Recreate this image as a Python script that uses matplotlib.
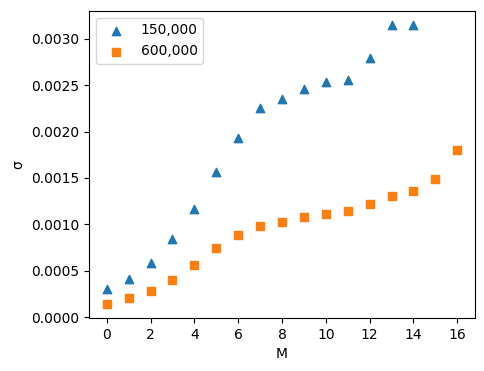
import matplotlib
matplotlib.use("Agg")
import matplotlib.pyplot as plt

m_150 = list(range(15))
sigma_150 = [0.00030, 0.000414, 0.000586, 0.00084, 0.00117, 0.001565, 0.001926,
             0.00225, 0.002345, 0.00246, 0.00253, 0.00256, 0.00279, 0.00315, 0.00315]
m_600 = list(range(17))
sigma_600 = [0.000143, 0.000208, 0.000279, 0.000401, 0.000558, 0.000741, 0.000891,
             0.000988, 0.00103, 0.001084, 0.00111, 0.00114, 0.001224, 0.001303,
             0.001364, 0.001492, 0.00180]

fig, ax = plt.subplots(figsize=(4.85, 3.71), dpi=100)
fig.subplots_adjust(left=0.184, right=0.979, top=0.971, bottom=0.143)
ax.scatter(m_150, sigma_150, marker="^", label="150,000")
ax.scatter(m_600, sigma_600, marker="s", label="600,000")
ax.set_xlabel("M")
ax.set_ylabel("σ")
ax.set_xticks(range(0, 17, 2))
ax.legend(loc="upper left")
fig.savefig("out.png")
